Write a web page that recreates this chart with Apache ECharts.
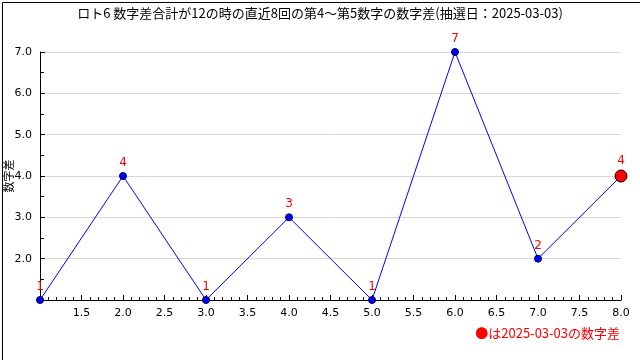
<!DOCTYPE html>
<html><head><meta charset="utf-8">
<script src="https://cdn.jsdelivr.net/npm/echarts@6/dist/echarts.min.js"></script>
<style>html,body{margin:0;padding:0;background:#fff}#c{width:640px;height:360px}</style>
</head><body><div id="c"></div>
<script>
const titleText = 'ロト6 数字差合計が12の時の直近8回の第4～第5数字の数字差(抽選日：2025-03-03)';
const yName = '数字差';
const legendText = '●は2025-03-03の数字差';
const xValues = [1, 2, 3, 4, 5, 6, 7, 8];
const diffs = [1, 4, 1, 3, 1, 7, 2, 4];

const chart = echarts.init(document.getElementById('c'), null, {renderer: 'canvas'});
const data = xValues.map((x, i) => {
  const last = i === xValues.length - 1;
  return {
    value: [x, diffs[i]],
    symbolSize: last ? 12 : 7,
    itemStyle: last ? {color: '#ff0000', borderColor: '#000', borderWidth: 1}
                    : {color: '#0000ff', borderColor: '#000044', borderWidth: 1}
  };
});
const font = 'DejaVu Sans';
chart.setOption({
  animation: false,
  title: {text: titleText, left: 'center', top: 2,
    textStyle: {fontSize: 13, fontWeight: 'normal', color: '#000', fontFamily: 'Noto Sans CJK JP'}},
  grid: {left: 40, right: 19, top: 52, bottom: 60, containLabel: false, outerBoundsMode: 'none'},
  xAxis: {
    type: 'value', min: 1, max: 8, interval: 0.5,
    axisLine: {lineStyle: {color: '#000', width: 1}},
    axisTick: {inside: true, length: 5, lineStyle: {color: '#000'}},
    minorTick: {show: true, splitNumber: 5, length: 3, lineStyle: {color: '#000'}},
    splitLine: {show: false},
    axisLabel: {showMinLabel: false, color: '#000', fontSize: 11, fontFamily: font, margin: 8,
      formatter: v => v.toFixed(1)}
  },
  yAxis: {
    type: 'value', min: 1, max: 7, interval: 1,
    name: yName, nameLocation: 'middle', nameRotate: 90, nameGap: 26, nameMoveOverlap: false,
    nameTextStyle: {color: '#000', fontSize: 11, fontFamily: 'Noto Sans CJK JP'},
    axisLine: {show: true, lineStyle: {color: '#000', width: 1}},
    axisTick: {inside: true, length: 5, lineStyle: {color: '#000'}},
    minorTick: {show: true, splitNumber: 2, length: 4, lineStyle: {color: '#000'}},
    splitLine: {show: true, lineStyle: {color: '#d8d8d8', width: 1}},
    axisLabel: {showMinLabel: false, color: '#000', fontSize: 11, fontFamily: font, margin: 8,
      formatter: v => v.toFixed(1)}
  },
  series: [{
    type: 'line', data: data, symbol: 'circle',
    lineStyle: {color: '#0000ff', width: 1},
    label: {show: true, position: 'top', distance: 3, color: '#ff0000', fontSize: 12, fontFamily: font,
      formatter: p => p.value[1]}
  }],
  graphic: [
    {type: 'rect', left: 0, top: 0, z: 100, shape: {x: 0.5, y: 0.5, width: 639, height: 359},
      style: {fill: 'none', stroke: '#000', lineWidth: 1}},
    {type: 'text', right: 20, top: 327, style: {text: legendText, fill: '#ff0000', fontSize: 13,
      fontFamily: 'Noto Sans CJK JP'}}
  ]
});
</script></body></html>
